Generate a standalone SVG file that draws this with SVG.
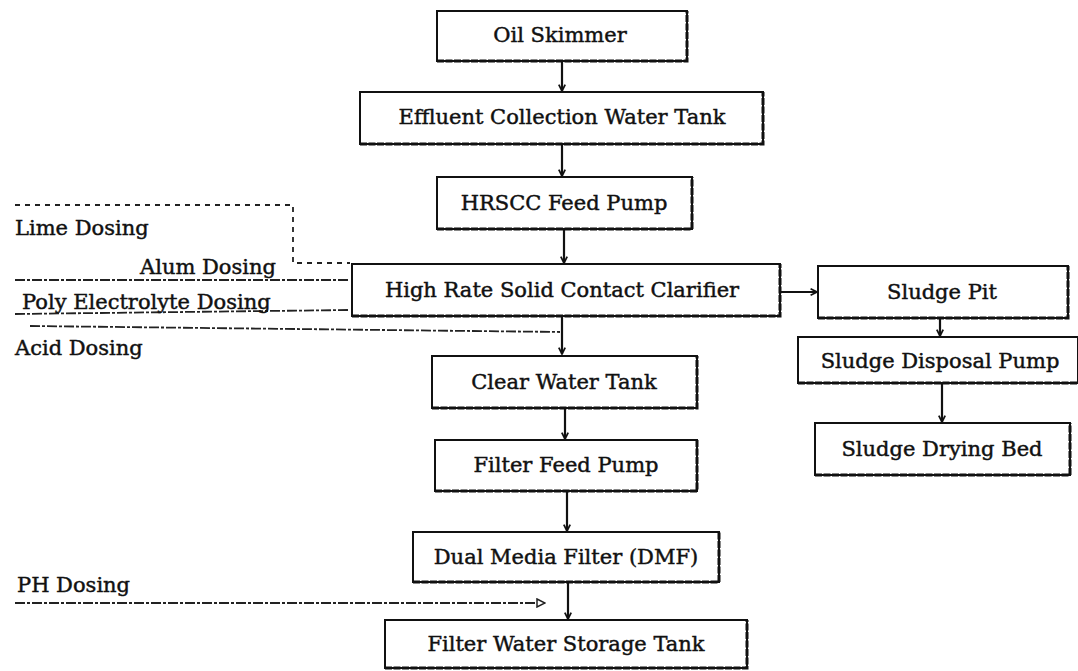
<svg xmlns="http://www.w3.org/2000/svg" width="1078" height="671" viewBox="0 0 1078 671">
<style>
  .box { fill: #fff; stroke: #111; stroke-width: 2; }
  .shade { fill: none; stroke: #111; stroke-width: 3; stroke-dasharray: 7 1.5; }
  .lbl { font-family: "DejaVu Serif", "Liberation Serif", serif; font-size: 21px; fill: #111; stroke: #111; stroke-width: 0.45; text-anchor: middle; }
  .dlbl { font-family: "DejaVu Serif", "Liberation Serif", serif; font-size: 21px; fill: #111; stroke: #111; stroke-width: 0.45; }
  .flow { fill: none; stroke: #111; stroke-width: 2.2; marker-end: url(#ah); }
  .dose { fill: none; stroke: #222; stroke-width: 1.8; stroke-dasharray: 10 2 3 2; }
</style>
<defs>
  <marker id="ah" viewBox="0 0 10 10" refX="9" refY="5" markerWidth="8" markerHeight="8" orient="auto" markerUnits="userSpaceOnUse">
    <path d="M1,1 L9,5 L1,9" fill="none" stroke="#111" stroke-width="2.2"/>
  </marker>
  <marker id="ah2" viewBox="0 0 10 10" refX="9" refY="5" markerWidth="10" markerHeight="10" orient="auto" markerUnits="userSpaceOnUse">
    <path d="M1,1 L9,5 L1,9 Z" fill="#fff" stroke="#222" stroke-width="1.5"/>
  </marker>
</defs>
<rect width="1078" height="671" fill="#fff"/>

<g id="connectors">
  <path class="flow" d="M562,62 V91"/>
  <path class="flow" d="M562,145 V176"/>
  <path class="flow" d="M564,230 V263"/>
  <path class="flow" d="M562,317 V354"/>
  <path class="flow" d="M565,409 V439"/>
  <path class="flow" d="M567,492 V531"/>
  <path class="flow" d="M568,583 V619"/>
  <path class="flow" d="M781,292 H817"/>
  <path class="flow" d="M940,319 V336"/>
  <path class="flow" d="M942,384 V422"/>
  <path class="dose" d="M15,205 H293 V263 H350" style="stroke-dasharray:5 5"/>
  <path class="dose" d="M15,280 H350"/>
  <path class="dose" d="M15,314 L350,310"/>
  <path class="dose" d="M30,326 L560,332"/>
  <path class="dose" d="M15,603 H545" marker-end="url(#ah2)"/>
</g>

<g id="oil-skimmer">
  <rect class="box" x="437" y="11" width="250" height="50"/>
  <path class="shade" d="M437,61 H687 V11"/>
  <text class="lbl" x="560" y="42">Oil Skimmer</text>
</g>
<g id="effluent-tank">
  <rect class="box" x="360" y="92" width="403" height="52"/>
  <path class="shade" d="M360,144 H763 V92"/>
  <text class="lbl" x="562" y="124">Effluent Collection Water Tank</text>
</g>
<g id="hrscc-pump">
  <rect class="box" x="437" y="177" width="255" height="52"/>
  <path class="shade" d="M437,229 H692 V177"/>
  <text class="lbl" x="564" y="210">HRSCC Feed Pump</text>
</g>
<g id="clarifier">
  <rect class="box" x="352" y="264" width="428" height="52"/>
  <path class="shade" d="M352,316 H780 V264"/>
  <text class="lbl" x="562" y="297">High Rate Solid Contact Clarifier</text>
</g>
<g id="sludge-pit">
  <rect class="box" x="818" y="266" width="250" height="52"/>
  <path class="shade" d="M818,318 H1068 V266"/>
  <text class="lbl" x="942" y="299">Sludge Pit</text>
</g>
<g id="sludge-disposal-pump">
  <rect class="box" x="798" y="337" width="280" height="46"/>
  <path class="shade" d="M798,383 H1078"/>
  <text class="lbl" x="940" y="368">Sludge Disposal Pump</text>
</g>
<g id="sludge-drying-bed">
  <rect class="box" x="815" y="423" width="255" height="52"/>
  <path class="shade" d="M815,475 H1070 V423"/>
  <text class="lbl" x="942" y="456">Sludge Drying Bed</text>
</g>
<g id="clear-water-tank">
  <rect class="box" x="432" y="356" width="265" height="52"/>
  <path class="shade" d="M432,408 H697 V356"/>
  <text class="lbl" x="564" y="389">Clear Water Tank</text>
</g>
<g id="filter-feed-pump">
  <rect class="box" x="435" y="440" width="262" height="51"/>
  <path class="shade" d="M435,491 H697 V440"/>
  <text class="lbl" x="566" y="472">Filter Feed Pump</text>
</g>
<g id="dual-media-filter">
  <rect class="box" x="413" y="532" width="306" height="50"/>
  <path class="shade" d="M413,582 H719 V532"/>
  <text class="lbl" x="566" y="564">Dual Media Filter (DMF)</text>
</g>
<g id="filter-water-storage-tank">
  <rect class="box" x="385" y="620" width="362" height="48"/>
  <path class="shade" d="M385,668 H747 V620"/>
  <text class="lbl" x="566" y="651">Filter Water Storage Tank</text>
</g>

<g id="dosing-labels">
  <text class="dlbl" x="15" y="235">Lime Dosing</text>
  <text class="dlbl" x="140" y="274">Alum Dosing</text>
  <text class="dlbl" x="22" y="309">Poly Electrolyte Dosing</text>
  <text class="dlbl" x="15" y="355">Acid Dosing</text>
  <text class="dlbl" x="17" y="592">PH Dosing</text>
</g>
</svg>
